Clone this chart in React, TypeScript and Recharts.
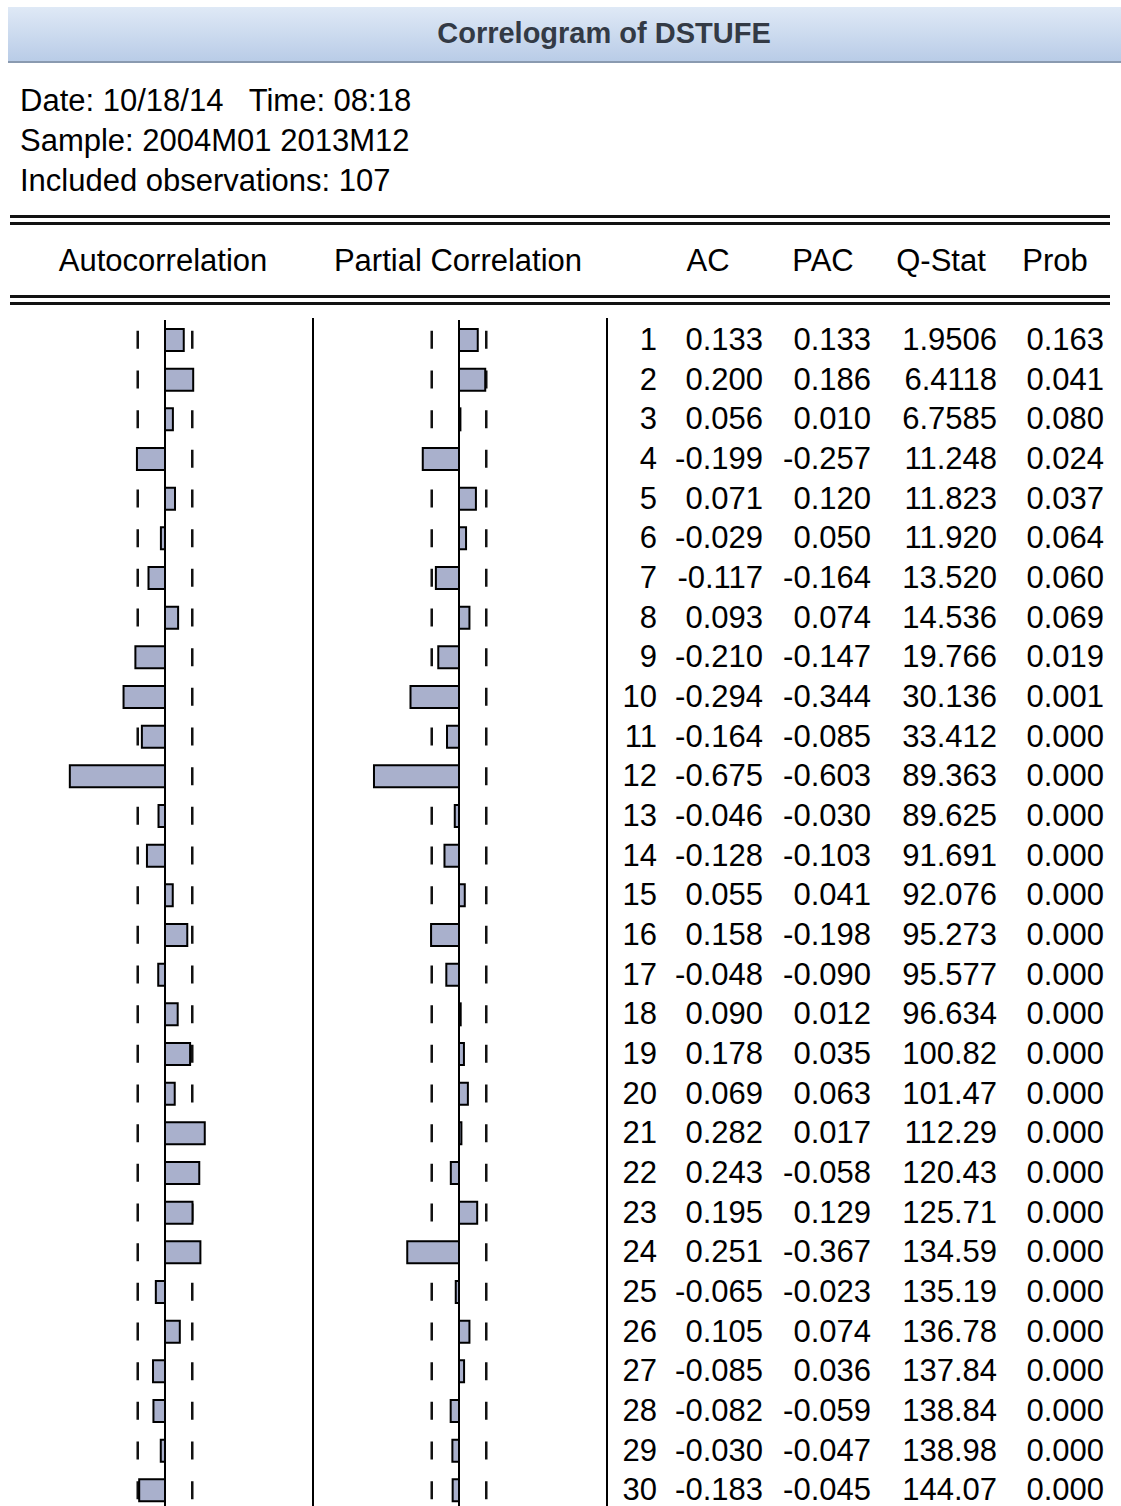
import React from "react";
import { BarChart, Bar, XAxis, YAxis, ReferenceLine } from "recharts";

// correlogram values read from the EViews output
const lags = [
  1, 2, 3, 4, 5, 6, 7, 8, 9, 10, 11, 12, 13, 14, 15, 16, 17, 18, 19, 20, 21, 22, 23, 24, 25, 26, 27, 28, 29, 30,
];
const acValues = [
  0.133, 0.2, 0.056, -0.199, 0.071, -0.029, -0.117, 0.093, -0.21, -0.294, -0.164, -0.675, -0.046, -0.128, 0.055,
  0.158, -0.048, 0.09, 0.178, 0.069, 0.282, 0.243, 0.195, 0.251, -0.065, 0.105, -0.085, -0.082, -0.03, -0.183,
];
const pacValues = [
  0.133, 0.186, 0.01, -0.257, 0.12, 0.05, -0.164, 0.074, -0.147, -0.344, -0.085, -0.603, -0.03, -0.103, 0.041,
  -0.198, -0.09, 0.012, 0.035, 0.063, 0.017, -0.058, 0.129, -0.367, -0.023, 0.074, 0.036, -0.059, -0.047, -0.045,
];
const qStats = [
  1.9506, 6.4118, 6.7585, 11.248, 11.823, 11.92, 13.52, 14.536, 19.766, 30.136, 33.412, 89.363, 89.625, 91.691,
  92.076, 95.273, 95.577, 96.634, 100.82, 101.47, 112.29, 120.43, 125.71, 134.59, 135.19, 136.78, 137.84, 138.84,
  138.98, 144.07,
];
const probs = [
  0.163, 0.041, 0.08, 0.024, 0.037, 0.064, 0.06, 0.069, 0.019, 0.001, 0, 0, 0, 0, 0, 0, 0, 0, 0, 0, 0, 0, 0, 0, 0,
  0, 0, 0, 0, 0,
];
const headerLines = ["Date: 10/18/14   Time: 08:18", "Sample: 2004M01 2013M12", "Included observations: 107"];
const observations = 107;

const ciBound = 2 / Math.sqrt(observations);
const FONT = '"Liberation Sans", Arial, sans-serif';
const ROW_H = 39.667;
const TABLE_TOP = 320.2;
const BAR_FILL = "#a9b0cc";

const rows = lags.map((lag, i) => ({ lag, ac: acValues[i], pac: pacValues[i] }));

function fmt(v: number) {
  return v.toFixed(3);
}

// two stacked charts with the same scales: dashed bounds underneath, bars on top
function CorrPanel({ left, dataKey }: { left: number; dataKey: "ac" | "pac" }) {
  const gap = (ROW_H - 18) / 2;
  const chartProps = {
    width: 282,
    height: ROW_H * lags.length,
    data: rows,
    layout: "vertical" as const,
    margin: { top: 0, right: 0, bottom: 0, left: 0 },
  };
  return (
    <>
      <div style={{ position: "absolute", left, top: TABLE_TOP }}>
        <BarChart {...chartProps}>
          <XAxis type="number" domain={[-1, 1]} hide />
          <YAxis type="category" dataKey="lag" hide />
          <Bar dataKey={dataKey} fill="none" stroke="none" barSize={22} isAnimationActive={false} />
          <ReferenceLine x={-ciBound} stroke="#111" strokeWidth={2.5} strokeDasharray={`0 ${gap} 18 ${gap}`} />
          <ReferenceLine x={ciBound} stroke="#111" strokeWidth={2.5} strokeDasharray={`0 ${gap} 18 ${gap}`} />
        </BarChart>
      </div>
      <div style={{ position: "absolute", left, top: TABLE_TOP }}>
        <BarChart {...chartProps}>
          <XAxis type="number" domain={[-1, 1]} hide />
          <YAxis type="category" dataKey="lag" hide />
          <Bar dataKey={dataKey} fill={BAR_FILL} stroke="#000" strokeWidth={2} barSize={22} isAnimationActive={false} />
          <ReferenceLine x={0} stroke="#000" strokeWidth={2} />
        </BarChart>
      </div>
    </>
  );
}

const colHeaders = [
  { text: "Autocorrelation", x: 163 },
  { text: "Partial Correlation", x: 458 },
  { text: "AC", x: 708 },
  { text: "PAC", x: 823 },
  { text: "Q-Stat", x: 941 },
  { text: "Prob", x: 1055 },
];

function DoubleRule({ top }: { top: number }) {
  return (
    <>
      <div style={{ position: "absolute", left: 10, top, width: 1100, height: 2.5, background: "#111" }} />
      <div style={{ position: "absolute", left: 10, top: top + 7, width: 1100, height: 2.5, background: "#111" }} />
    </>
  );
}

export default function App() {
  const cellStyle = (right: number, y: number): React.CSSProperties => ({
    position: "absolute",
    left: right - 200,
    width: 200,
    top: y - 20,
    height: 40,
    lineHeight: "40px",
    textAlign: "right",
    whiteSpace: "pre",
  });

  return (
    <div
      style={{
        position: "absolute",
        left: 0,
        top: 0,
        width: 1121,
        height: 1506,
        overflow: "hidden",
        background: "#fff",
        fontFamily: FONT,
        fontSize: 31,
        color: "#000",
      }}
    >
      <div
        style={{
          position: "absolute",
          left: 8,
          top: 7,
          width: 1113,
          height: 54,
          background: "linear-gradient(#dfe9f6, #b9cce7)",
          borderBottom: "2px solid #8a9ab0",
        }}
      />
      <div
        style={{
          position: "absolute",
          left: 604,
          top: 13,
          height: 40,
          lineHeight: "40px",
          transform: "translateX(-50%)",
          whiteSpace: "pre",
          fontSize: 29,
          fontWeight: 700,
          color: "#333a45",
        }}
      >
        Correlogram of DSTUFE
      </div>

      {headerLines.map((t, i) => (
        <div
          key={t}
          style={{ position: "absolute", left: 20, top: 81 + i * 40, height: 40, lineHeight: "40px", whiteSpace: "pre" }}
        >
          {t}
        </div>
      ))}

      <DoubleRule top={215} />
      {colHeaders.map((h) => (
        <div
          key={h.text}
          style={{
            position: "absolute",
            left: h.x,
            top: 241,
            height: 40,
            lineHeight: "40px",
            transform: "translateX(-50%)",
            whiteSpace: "pre",
          }}
        >
          {h.text}
        </div>
      ))}
      <DoubleRule top={295} />

      <div style={{ position: "absolute", left: 312, top: 318, width: 2, height: 1200, background: "#000" }} />
      <div style={{ position: "absolute", left: 606, top: 318, width: 2, height: 1200, background: "#000" }} />

      <CorrPanel left={24} dataKey="ac" />
      <CorrPanel left={318} dataKey="pac" />

      {lags.map((lag, i) => {
        const y = TABLE_TOP + (i + 0.5) * ROW_H;
        return (
          <React.Fragment key={lag}>
            <div style={cellStyle(657, y)}>{lag}</div>
            <div style={cellStyle(763, y)}>{fmt(acValues[i])}</div>
            <div style={cellStyle(871, y)}>{fmt(pacValues[i])}</div>
            <div style={cellStyle(997, y)}>{qStats[i].toPrecision(5)}</div>
            <div style={cellStyle(1104, y)}>{fmt(probs[i])}</div>
          </React.Fragment>
        );
      })}
    </div>
  );
}
